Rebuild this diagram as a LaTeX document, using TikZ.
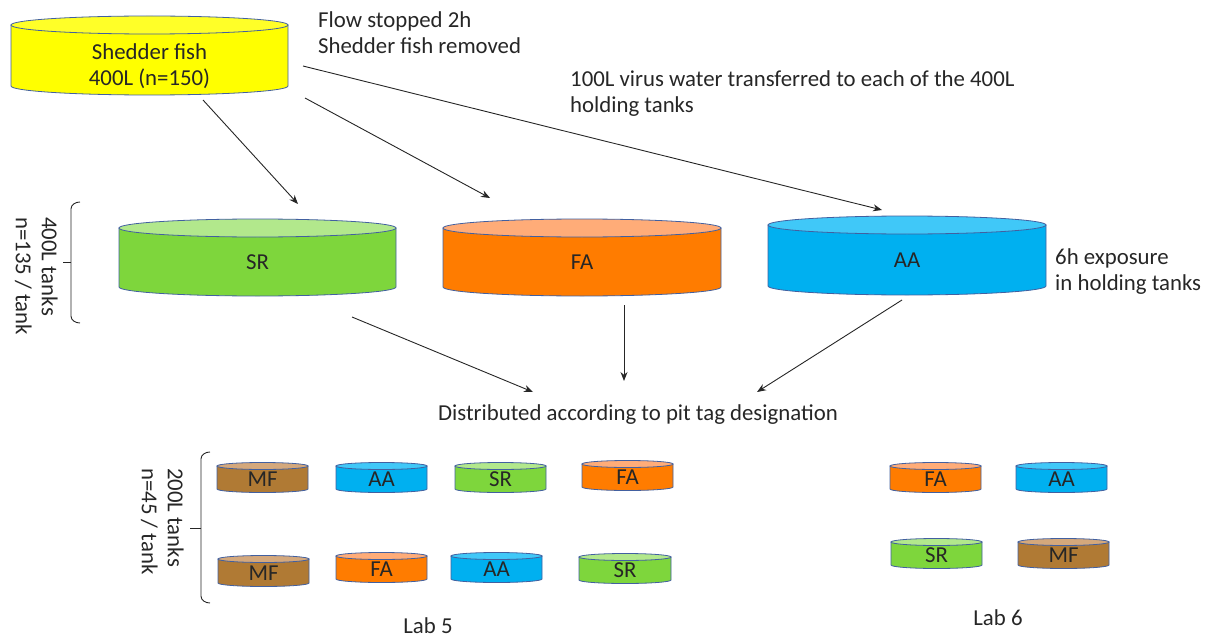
\documentclass[tikz,border=0pt]{standalone}
\usepackage{fontspec}
\setmainfont{Carlito}
\usepackage{tikz}
\usetikzlibrary{positioning}
\usetikzlibrary{arrows.meta}

\definecolor{shedbody}{RGB}{255,255,0}
\definecolor{shedlid}{RGB}{255,255,40}
\definecolor{srbody}{RGB}{126,214,60}
\definecolor{srlid}{RGB}{178,232,140}
\definecolor{fabody}{RGB}{255,124,0}
\definecolor{falid}{RGB}{255,172,120}
\definecolor{aabody}{RGB}{0,176,240}
\definecolor{aalid}{RGB}{64,200,248}
\definecolor{mfbody}{RGB}{176,122,52}
\definecolor{mflid}{RGB}{212,168,124}
\definecolor{tankedge}{RGB}{66,96,160}
\definecolor{ink}{RGB}{38,38,38}

\tikzset{
	tankline/.style={draw=tankedge, line width=0.8pt},
	tanklabel/.style={inner sep=0pt, text=ink, align=center},
	txt/.style={inner sep=0pt, text=ink, align=left},
	flow/.style={draw=ink, line width=0.9pt, -{Stealth[length=9pt,width=7pt]}},
	bracket/.style={draw=ink, line width=0.9pt},
}

% tank: name, left x, right x, lid y, base y, end radius, body colour, lid colour, label
\newcommand{\tank}[9]{%
	\pgfmathsetmacro{\tankrx}{(#3-#2)/2}%
	\pgfmathsetmacro{\tankmx}{(#3+#2)/2}%
	\pgfmathsetmacro{\tankmy}{(#4+#5)/2+#6/2}%
	\filldraw[tankline, fill=#7] (#2,-#4) -- (#2,-#5)
		arc[start angle=180, end angle=360, x radius=\tankrx pt, y radius=#6pt] -- (#3,-#4) -- cycle;
	\filldraw[tankline, fill=#8] (\tankmx,-#4) ellipse[x radius=\tankrx pt, y radius=#6pt];
	\node[tanklabel] (#1) at (\tankmx,-\tankmy) {#9};
}

\begin{document}
\begin{tikzpicture}[x=1pt, y=1pt, font=\fontsize{22.8pt}{26pt}\selectfont]
				\useasboundingbox (0,0) rectangle (1206,-639);

				%Tanks
				\begin{scope}[tanklabel/.append style={yshift=-6pt}]
				\tank{shed}{11}{288}{25}{86}{9}{shedbody}{shedlid}{Shedder fish\\400L (n=150)}
				\end{scope}
				\tank{sr}{119}{396}{228}{287}{9}{srbody}{srlid}{SR}
				\tank{fa}{443}{721}{228}{287}{9}{fabody}{falid}{FA}
				\tank{aa}{768}{1046}{225}{286}{9}{aabody}{aalid}{AA}

				% lab 5
				\tank{mfa}{217}{308}{466}{489}{3.5}{mfbody}{mflid}{MF}
				\tank{aaa}{336}{427}{466}{489}{3.5}{aabody}{aalid}{AA}
				\tank{sra}{455}{546}{466}{489}{3.5}{srbody}{srlid}{SR}
				\tank{faa}{582}{673}{464}{487}{3.5}{fabody}{falid}{FA}
				\tank{mfb}{218}{309}{559}{583}{3.5}{mfbody}{mflid}{MF}
				\tank{fab}{336}{427}{556}{579}{3.5}{fabody}{falid}{FA}
				\tank{aab}{451}{542}{556}{579}{3.5}{aabody}{aalid}{AA}
				\tank{srb}{579}{671}{557}{580}{3.5}{srbody}{srlid}{SR}

				% lab 6
				\tank{fac}{890}{981}{466}{489}{3.5}{fabody}{falid}{FA}
				\tank{aac}{1016}{1107}{466}{489}{3.5}{aabody}{aalid}{AA}
				\tank{src}{891}{982}{542}{565}{3.5}{srbody}{srlid}{SR}
				\tank{mfc}{1018}{1109}{542}{565}{3.5}{mfbody}{mflid}{MF}

				%Nodes
				\coordinate      (shed1) 	at 	(203,-100);
				\coordinate      (shed2) 	at 	(305,-98);
				\coordinate      (shed3) 	at 	(303,-66);
				\coordinate      (srin) 	at 	(298,-204);
				\coordinate      (fain) 	at 	(490,-198);
				\coordinate      (aain) 	at 	(882,-210);
				\coordinate      (srout) 	at 	(352,-317);
				\coordinate      (faout) 	at 	(624,-305);
				\coordinate      (aaout) 	at 	(902,-300);
				\coordinate      (distl) 	at 	(533,-392);
				\coordinate      (distm) 	at 	(624,-381);
				\coordinate      (distr) 	at 	(757,-392);

				\node[txt, anchor=north west] (flowtxt) at (318,-11) {Flow stopped 2h\\Shedder fish removed};
				\node[txt, anchor=north west] (virustxt) at (570,-70) {100L virus water transferred to each of the 400L\\holding tanks};
				\node[txt, anchor=north west] (exposetxt) at (1055,-248) {6h exposure\\in holding tanks};
				\node[txt, anchor=base] (disttxt) at (638,-420) {Distributed according to pit tag designation};
				\node[txt, anchor=base] (labfive) at (428,-633) {Lab 5};
				\node[txt, anchor=base] (labsix) at (998,-625) {Lab 6};
				\node[txt, rotate=-90, anchor=north west] (bigcount) at (58,-217) {400L tanks\\n=135 / tank};
				\node[txt, rotate=-90, anchor=north west] (smallcount) at (184,-468) {200L tanks\\n=45 / tank};

				%Lines
				\draw[flow] (shed1) -- (srin);
				\draw[flow] (shed2) -- (fain);
				\draw[flow] (shed3) -- (aain);
				\draw[flow] (srout) -- (distl);
				\draw[flow] (faout) -- (distm);
				\draw[flow] (aaout) -- (distr);

				\draw[bracket] (80,-202) to[out=180,in=90] (71,-209) -- (71,-316) to[out=270,in=180] (80,-323);
				\draw[bracket] (71,-262) -- (63,-262);
				\draw[bracket] (210,-452) to[out=180,in=90] (201,-459) -- (201,-596) to[out=270,in=180] (210,-603);
				\draw[bracket] (201,-528) -- (190,-528);

			\end{tikzpicture}
\end{document}
